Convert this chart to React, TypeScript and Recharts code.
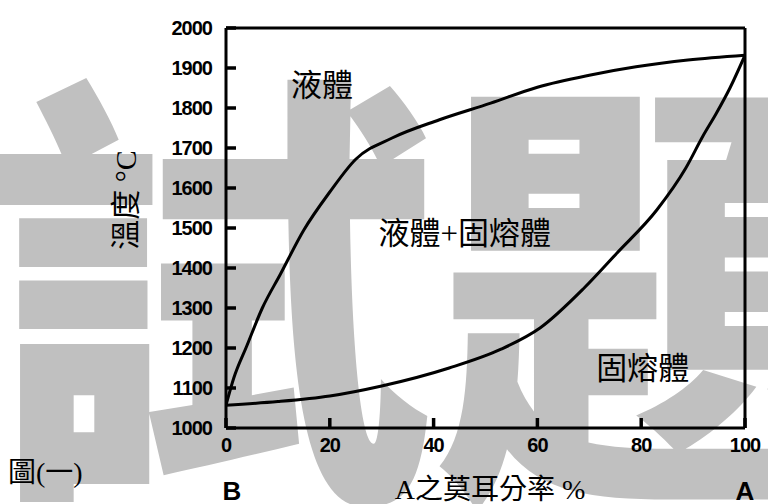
import { LineChart, Line, XAxis, YAxis, ReferenceLine, ReferenceDot } from 'recharts'

// 液相線 (upper curve)
const liquidusX = [0, 1.5, 4, 7, 10.5, 15, 20, 25, 32, 41, 51, 60, 70, 79, 89, 100]
const liquidusT = [1057, 1125, 1205, 1300, 1385, 1495, 1590, 1672, 1725, 1770, 1812, 1852, 1882, 1903, 1920, 1932]

// 固相線 (lower curve)
const solidusX = [0, 10, 20, 30, 43, 53, 60.5, 69, 75.3, 83, 88.6, 91.9, 94.4, 97.1, 100]
const solidusT = [1057, 1066, 1080, 1105, 1150, 1197, 1250, 1350, 1437, 1545, 1650, 1730, 1785, 1850, 1932]

const xTicks = [0, 20, 40, 60, 80, 100]
const yTicks = [1000, 1100, 1200, 1300, 1400, 1500, 1600, 1700, 1800, 1900, 2000]

const regionLabels = [
  { x: 18.5, y: 1857, text: '液體' },
  { x: 46, y: 1487, text: '液體+固熔體' },
  { x: 80.3, y: 1150, text: '固熔體' },
]

const liquidus = liquidusX.map((x, i) => ({ x, t: liquidusT[i] }))
const solidus = solidusX.map((x, i) => ({ x, t: solidusT[i] }))

const tickFont = { fontFamily: 'Liberation Sans, Arial', fontWeight: 700, fontSize: 20, fill: '#000', letterSpacing: -1 }
const cjkFont = 'Liberation Serif, "Noto Sans CJK TC", serif'

export default function App() {
  return (
    <div style={{ position: 'absolute', left: 0, top: 0, width: 768, height: 504, background: '#fff', overflow: 'hidden' }}>
      <svg width={768} height={504} style={{ position: 'absolute', left: 0, top: 0 }}>
        <text x={-15} y={465} fontSize={450} fontWeight={900} fill="#c0c0c0" fontFamily='"Noto Sans CJK TC"'>
          試題
        </text>
      </svg>
      <div style={{ position: 'absolute', left: 0, top: 0 }}>
        <LineChart width={768} height={504} margin={{ top: 28, right: 23, left: 0, bottom: 0 }}>
          <XAxis
            dataKey="x"
            type="number"
            domain={[0, 100]}
            ticks={xTicks}
            height={76}
            tickSize={-10}
            tickMargin={20}
            axisLine={{ stroke: '#000', strokeWidth: 3 }}
            tickLine={{ stroke: '#000', strokeWidth: 3.5 }}
            tick={tickFont}
            allowDataOverflow
          />
          <YAxis
            type="number"
            domain={[1000, 2000]}
            ticks={yTicks}
            width={226}
            tickSize={-10}
            tickMargin={24}
            axisLine={{ stroke: '#000', strokeWidth: 3 }}
            tickLine={{ stroke: '#000', strokeWidth: 3.5 }}
            tick={tickFont}
            allowDataOverflow
          />
          <ReferenceLine y={2000} stroke="#000" strokeWidth={3} />
          <ReferenceLine x={100} stroke="#000" strokeWidth={3} />
          <Line data={liquidus} dataKey="t" type="monotone" stroke="#000" strokeWidth={3} dot={false} isAnimationActive={false} />
          <Line data={solidus} dataKey="t" type="monotone" stroke="#000" strokeWidth={3} dot={false} isAnimationActive={false} />
          {regionLabels.map((l) => (
            <ReferenceDot
              key={l.text}
              x={l.x}
              y={l.y}
              r={0}
              stroke="none"
              fill="none"
              label={{ value: l.text, position: 'center', fill: '#000', fontSize: 31, fontFamily: cjkFont }}
            />
          ))}
        </LineChart>
      </div>
      <svg width={768} height={504} style={{ position: 'absolute', left: 0, top: 0, pointerEvents: 'none' }}>
        <text x={125} y={200} transform="rotate(-90 125 200)" textAnchor="middle" dominantBaseline="central" fontSize={30} fontFamily={cjkFont} fill="#000">
          溫度 °C
        </text>
        <text x={490} y={499} textAnchor="middle" fontSize={28} fontFamily={cjkFont} fill="#000">
          A之莫耳分率  %
        </text>
        <text x={232} y={500} textAnchor="middle" fontSize={26} fontWeight={700} fontFamily="Liberation Sans, Arial" fill="#000">
          B
        </text>
        <text x={745} y={500} textAnchor="middle" fontSize={26} fontWeight={700} fontFamily="Liberation Sans, Arial" fill="#000">
          A
        </text>
        <text x={8} y={482} fontSize={28} fontFamily={cjkFont} fill="#000">
          圖(一)
        </text>
      </svg>
    </div>
  )
}
